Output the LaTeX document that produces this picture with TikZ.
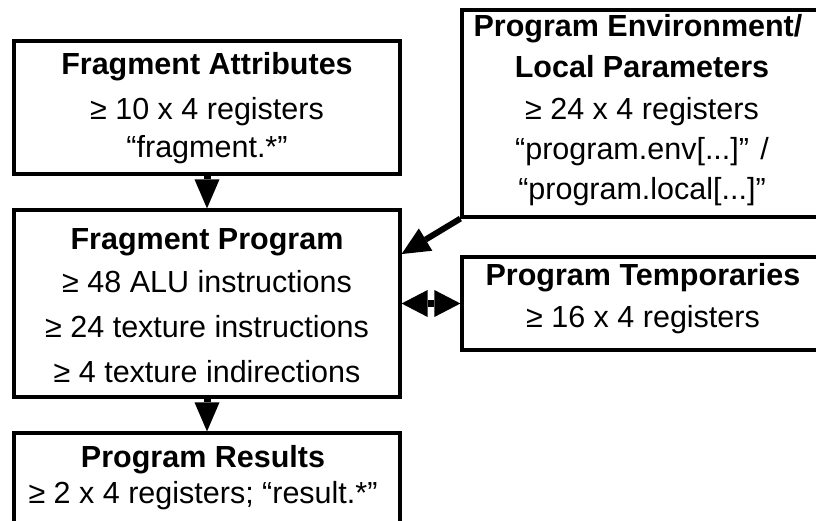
\documentclass[tikz,border=0pt]{standalone}
\usepackage{fontspec}
\setmainfont{Liberation Sans}
\usetikzlibrary{arrows.meta,calc}
\begin{document}
\begin{tikzpicture}[x=1pt,y=-1pt,
  box/.style={draw, line width=3.2pt, inner sep=0pt},
  txt/.style={anchor=base, inner sep=0pt, font=\fontsize{30.5}{36}\selectfont},
  ttl/.style={txt, font=\fontsize{30.5}{36}\selectfont\bfseries},
  flow/.style={line width=7pt, -{Triangle[length=29pt,width=25pt,line width=0pt]}},
  feed/.style={line width=6pt, -{Triangle[length=28pt,width=26pt,line width=0pt]}},
  both/.style={line width=7pt, {Triangle[length=26pt,width=27pt,line width=0pt]}-{Triangle[length=26pt,width=27pt,line width=0pt]}}]
\useasboundingbox (0,0) rectangle (816,521);
\clip (0,0) rectangle (816,521);

% boxes
\node[box, minimum width=386pt, minimum height=133pt] (fa)  at (207,107.5) {};
\node[box, minimum width=386pt, minimum height=187pt] (fp)  at (207,303.5) {};
\node[box, minimum width=386pt, minimum height=91pt]  (res) at (207,478.5) {};
\node[box, minimum width=360pt, minimum height=207pt] (env) at (642,113.5) {};
\node[box, minimum width=360pt, minimum height=93pt]  (tmp) at (642,303.5) {};

% Fragment Attributes
\node[ttl] (fa1) at (207,75)  {Fragment Attributes};
\node[txt] (fa2) at (207,120) {≥ 10 x 4 registers};
\node[txt] (fa3) at (207,158) {“fragment.*”};

% Fragment Program
\node[ttl] (fp1) at (207,250) {Fragment Program};
\node[txt] (fp2) at (207,292) {≥ 48 ALU instructions};
\node[txt] (fp3) at (207,337) {≥ 24 texture instructions};
\node[txt] (fp4) at (207,382) {≥ 4 texture indirections};

% Program Results
\node[ttl] (res1) at (203,467) {Program Results};
\node[txt] (res2) at (203,503) {≥ 2 x 4 registers; “result.*”};

% Program Environment / Local Parameters
\node[ttl] (env1) at (638,37)  {Program Environment/};
\node[ttl] (env2) at (642,78)  {Local Parameters};
\node[txt] (env3) at (642,120) {≥ 24 x 4 registers};
\node[txt] (env4) at (642,160) {“program.env[...]” /};
\node[txt] (env5) at (642,200) {“program.local[...]”};

% Program Temporaries
\node[ttl] (tmp1) at (643,285) {Program Temporaries};
\node[txt] (tmp2) at (643,327) {≥ 16 x 4 registers};

% connectors
\coordinate (fpin) at ($(fp.north east)!0.24!(fp.south east)$);
\draw[flow] (fa.south) -- (fp.north);
\draw[flow] (fp.south) -- (res.north);
\draw[feed] (env.south west) -- (fpin);
\draw[both] (fp.east) -- (tmp.west);
\end{tikzpicture}
\end{document}
